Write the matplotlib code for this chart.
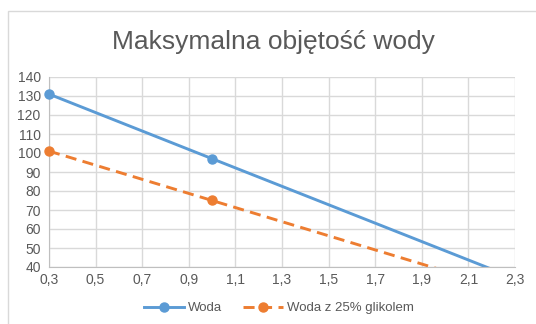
import matplotlib.pyplot as plt
from matplotlib.lines import Line2D
from matplotlib.patches import Rectangle
from matplotlib.ticker import FuncFormatter

plt.rcParams['font.family'] = ['Liberation Sans', 'DejaVu Sans']

# serie: przeplyw [x] vs maksymalna objetosc wody
x_woda = [0.3, 1.0, 2.3]
y_woda = [131, 97, 34]
x_glikol = [0.3, 1.0, 2.3]
y_glikol = [101, 75, 26.7]
xticks = [0.3, 0.5, 0.7, 0.9, 1.1, 1.3, 1.5, 1.7, 1.9, 2.1, 2.3]
yticks = list(range(40, 141, 10))
ymin, ymax = 40, 140

W, H = 536, 324
fig = plt.figure(figsize=(W / 100, H / 100), dpi=100)
fig.patch.set_facecolor('white')

# ramka wykresu
fig.patches.append(Rectangle((8 / W, -0.1), 1.2, 1 - 11 / H + 0.1,
                             transform=fig.transFigure, fill=False,
                             edgecolor='#d9d9d9', linewidth=1))

ax = fig.add_axes([49 / W, 1 - 267 / H, (515 - 49) / W, (267 - 77) / H])
blue = '#5b9bd5'
orange = '#ed7d31'
LW, MS = 2.1, 6.5

def seria(xs, ys, color, ls, label):
    ax.plot(xs, ys, color=color, lw=LW, ls=ls)
    # punkty tylko w zakresie osi, nieprzycinane na krawedzi
    vis = [i for i, y in enumerate(ys) if ymin <= y <= ymax]
    ax.plot([xs[i] for i in vis], [ys[i] for i in vis], ls='none',
            marker='o', ms=MS, color=color, clip_on=False, zorder=3)
    return Line2D([], [], color=color, lw=LW, ls=ls, marker='o', ms=MS, label=label)

h1 = seria(x_woda, y_woda, blue, '-', 'Woda')
h2 = seria(x_glikol, y_glikol, orange, (0, (3.8, 2.2)), 'Woda z 25% glikolem')

ax.set_xlim(0.3, 2.3)
ax.set_ylim(ymin, ymax)
ax.set_xticks(xticks)
ax.set_yticks(yticks)
ax.xaxis.set_major_formatter(FuncFormatter(lambda v, p: f'{v:.1f}'.replace('.', ',')))
ax.grid(True, color='#d9d9d9', lw=1)
ax.set_axisbelow(True)
for s in ['top', 'right']:
    ax.spines[s].set_visible(False)
for s in ['left', 'bottom']:
    ax.spines[s].set_color('#bfbfbf')
ax.tick_params(length=0, labelsize=10, colors='#595959')
ax.tick_params(axis='y', pad=6)
ax.tick_params(axis='x', pad=4)

fig.text(273 / W, 1 - 42 / H, 'Maksymalna objętość wody', ha='center',
         va='center', fontsize=19, color='#595959')

fig.legend(handles=[h1, h2], loc='center', bbox_to_anchor=(279 / W, 1 - 308 / H),
           ncol=2, frameon=False, fontsize=9.5, labelcolor='#595959',
           handlelength=3, columnspacing=1.6, handletextpad=0.3)

fig.savefig('out.png', dpi=100)
